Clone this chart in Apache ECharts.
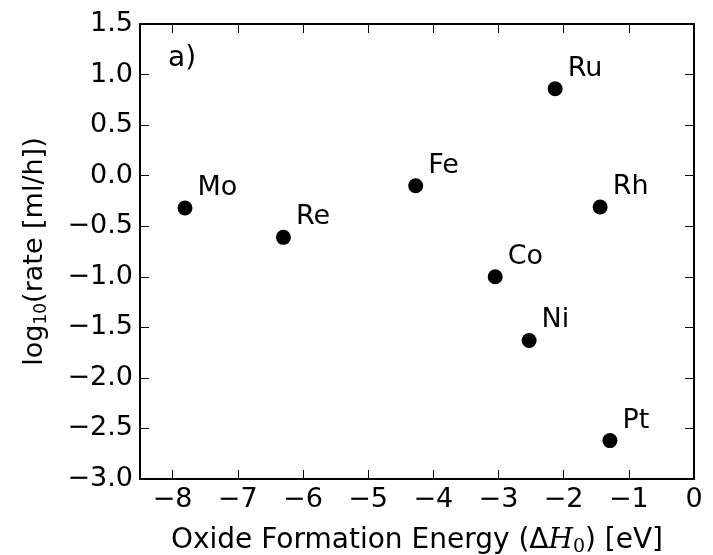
<!DOCTYPE html>
<html>
<head>
<meta charset="utf-8">
<script src="https://cdn.jsdelivr.net/npm/echarts@6/dist/echarts.min.js"></script>
<style>html,body{margin:0;padding:0;background:#fff}#c{width:713px;height:555px}</style>
</head>
<body>
<div id="c"></div>
<script>
const elements = ['Mo','Re','Fe','Co','Ni','Ru','Rh','Pt'];
const energies = [-7.81,-6.30,-4.27,-3.05,-2.53,-2.13,-1.44,-1.29];
const logRates = [-0.32,-0.61,-0.10,-1.00,-1.63,0.86,-0.31,-2.62];
const xTicks = [-8,-7,-6,-5,-4,-3,-2,-1,0];
const yTicks = [1.5,1.0,0.5,0.0,-0.5,-1.0,-1.5,-2.0,-2.5,-3.0];

const F = 'DejaVu Sans';
const FS = 27;
const fmt = (v,d) => { const s = Math.abs(v).toFixed(d); return (v < 0 ? '\u2212' : '') + s; };
const chart = echarts.init(document.getElementById('c'));
const axisLine = {show:true,onZero:false,lineStyle:{color:'#000',width:2}};
const tickStyle = {color:'#000',width:1};
chart.setOption({
  animation:false,
  backgroundColor:'#fff',
  grid:{left:140,right:19,top:24,bottom:76,containLabel:false,outerBoundsMode:'none'},
  xAxis:[
    {type:'value',min:-8.5,max:0,position:'bottom',axisLine,splitLine:{show:false},
      axisTick:{show:true,inside:true,length:9,lineStyle:tickStyle,customValues:xTicks},
      axisLabel:{color:'#000',fontFamily:F,fontSize:FS,margin:7,customValues:xTicks,
        formatter:v=>fmt(v,0)},
      name:'{t|Oxide Formation Energy (\u0394}{i|H}{s|0}{t|) [eV]}',
      nameLocation:'middle',nameGap:45,
      nameTextStyle:{rich:{
        t:{fontFamily:F,fontSize:28,color:'#000'},
        i:{fontFamily:'DejaVu Serif',fontStyle:'italic',fontSize:28,color:'#000'},
        s:{fontFamily:'DejaVu Serif',fontSize:19,color:'#000',padding:[14,0,0,0]}
      }}
    },
    {type:'value',min:-8.5,max:0,position:'top',axisLine,splitLine:{show:false},
      axisTick:{show:true,inside:true,length:9,lineStyle:tickStyle,customValues:xTicks},
      axisLabel:{show:false}}
  ],
  yAxis:[
    {type:'value',min:-3,max:1.5,interval:0.5,position:'left',axisLine,splitLine:{show:false},
      axisTick:{show:true,inside:true,length:9,lineStyle:tickStyle,customValues:yTicks},
      axisLabel:{color:'#000',fontFamily:F,fontSize:FS,margin:7,customValues:yTicks,formatter:v=>fmt(v,1)},
      name:'{t|log}{s|10}{t|(rate [ml/h])}',
      nameLocation:'middle',nameGap:90,nameRotate:90,
      nameTextStyle:{rich:{
        t:{fontFamily:F,fontSize:27,color:'#000'},
        s:{fontFamily:F,fontSize:17,color:'#000',padding:[13,0,0,0]}
      }}
    },
    {type:'value',min:-3,max:1.5,interval:0.5,position:'right',axisLine,splitLine:{show:false},
      axisTick:{show:true,inside:true,length:9,lineStyle:tickStyle,customValues:yTicks},
      axisLabel:{show:false}}
  ],
  graphic:[{type:'text',left:168,top:45,style:{text:'a)',font:'28px "DejaVu Sans"',fill:'#000'}}],
  series:[{
    type:'scatter',
    symbol:'circle',symbolSize:15,
    itemStyle:{color:'#000',opacity:1},
    data: energies.map((x,i)=>({value:[x,logRates[i]],name:elements[i]})),
    label:{show:true,position:[20,-26],align:'left',verticalAlign:'top',
      formatter:p=>p.name,fontFamily:F,fontSize:FS,color:'#000'}
  }]
});
</script>
</body>
</html>
